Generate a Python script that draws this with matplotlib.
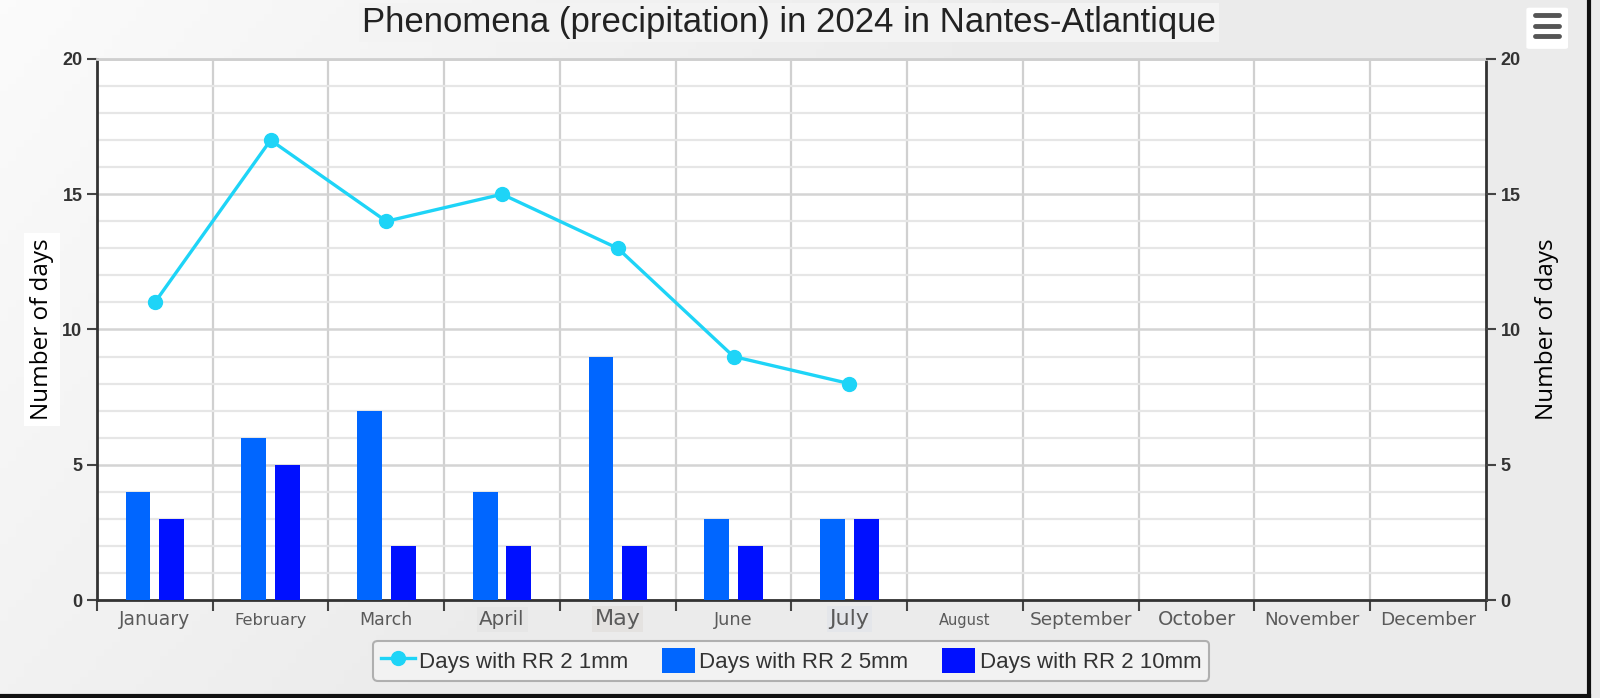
import numpy as np
import matplotlib
matplotlib.use("Agg")
import matplotlib.pyplot as plt
from matplotlib.lines import Line2D
from matplotlib.patches import Patch, FancyBboxPatch

# data
months = ["January", "February", "March", "April", "May", "June", "July",
          "August", "September", "October", "November", "December"]
rr_1mm = [11, 17, 14, 15, 13, 9, 8]
rr_5mm = [4, 6, 7, 4, 9, 3, 3]
rr_10mm = [3, 5, 2, 2, 2, 2, 3]

C_LINE = "#1ed4f7"
C_5 = "#0066ff"
C_10 = "#0010ff"

fig = plt.figure(figsize=(16, 6.98), dpi=100)
fig.patch.set_facecolor("#eeeeee")

# soft background gradient (whiter at the top left)
bg = fig.add_axes([0, 0, 1, 1], zorder=-10)
gx, gy = np.meshgrid(np.linspace(0, 1, 200), np.linspace(0, 1, 100))
shade = 0.985 - 0.06 * np.clip(gx * 1.6 + gy * 0.6, 0, 1)
bg.imshow(np.dstack([shade] * 3), aspect="auto", extent=[0, 1, 0, 1],
          origin="upper")
bg.axis("off")

ax = fig.add_axes([0.0606, 0.1404, 0.8681, 0.7751])
ax.set_facecolor("white")

x = np.arange(len(rr_1mm))
bw = 0.215
ax.bar(x - 0.145, rr_5mm, width=bw, color=C_5, zorder=3)
ax.bar(x + 0.145, rr_10mm, width=bw, color=C_10, zorder=3)
ax.plot(x, rr_1mm, color=C_LINE, lw=2.4, marker="o", ms=10, zorder=4)

ax.set_xlim(-0.5, len(months) - 0.5)
ax.set_ylim(0, 20)

# grids: minor every day, major every 5, vertical at month edges
ax.set_yticks(range(0, 21, 5))
ax.set_yticks(range(0, 21), minor=True)
ax.grid(axis="y", which="minor", color="#e6e6e6", lw=1.6, zorder=0)
ax.grid(axis="y", which="major", color="#d4d4d4", lw=1.8, zorder=0)
edges = np.arange(-0.5, len(months), 1.0)
for e in edges[1:-1]:
    ax.axvline(e, color="#d0d0d0", lw=1.6, zorder=0)

ax.set_xticks(edges)
ax.set_xticklabels([])
ax.tick_params(axis="x", which="major", direction="out", length=8, width=1.5,
               color="#444")
sizes = [13.5, 11.7, 12.5, 14.3, 16, 12.7, 16, 10.5, 13.3, 14, 13.2, 13.3]
boxed = {"April": "#e6e6e6", "May": "#e4e2e0", "July": "#e4e6ea"}
for i, (m, s) in enumerate(zip(months, sizes)):
    kw = {}
    if m in boxed:
        kw["bbox"] = dict(facecolor=boxed[m], edgecolor="none", pad=2)
    ax.text(i, -0.93, m, ha="center", va="baseline", fontsize=s, color="#5a5a5a",
            family="DejaVu Sans", clip_on=False, **kw)

ax.tick_params(axis="y", which="major", direction="out", length=7, width=1.5,
               color="#444", labelsize=13, labelcolor="#333")
ax.tick_params(axis="y", which="minor", length=0)
for lab in ax.get_yticklabels():
    lab.set_family("Liberation Sans")
    lab.set_weight("bold")

for side in ["left", "bottom", "right"]:
    ax.spines[side].set_color("#333")
    ax.spines[side].set_linewidth(2)
ax.spines["top"].set_color("#cfcfcf")
ax.spines["top"].set_linewidth(2)

ax2 = ax.twinx()
ax2.set_ylim(0, 20)
ax2.set_yticks(range(0, 21, 5))
ax2.tick_params(axis="y", direction="out", length=7, width=1.5, color="#444",
                labelsize=13, labelcolor="#333")
for lab in ax2.get_yticklabels():
    lab.set_family("Liberation Sans")
    lab.set_weight("bold")
for s in ax2.spines.values():
    s.set_visible(False)

ax.set_ylabel("Number of days", fontsize=17.5, family="Open Sans", labelpad=6,
              bbox=dict(facecolor="white", edgecolor="none", pad=4))
ax2.set_ylabel("Number of days", fontsize=17.5, family="Open Sans", labelpad=10)

fig.text(0.493, 0.968, "Phenomena (precipitation) in 2024 in Nantes-Atlantique",
         ha="center", va="center", fontsize=25, family="Liberation Sans",
         color="#222",
         bbox=dict(facecolor="#f3f3f3", edgecolor="none", pad=2))

handles = [
    Line2D([0], [0], color=C_LINE, lw=2.4, marker="o", ms=10),
    Patch(facecolor=C_5),
    Patch(facecolor=C_10),
]
labels = ["Days with RR 2 1mm", "Days with RR 2 5mm", "Days with RR 2 10mm"]
leg = fig.legend(handles, labels, loc="center", bbox_to_anchor=(0.4945, 0.0535),
                 ncol=3, frameon=True, fancybox=True,
                 prop={"family": "Liberation Sans", "size": 16},
                 handlelength=1.5, handleheight=1.3, handletextpad=0.2,
                 columnspacing=1.5, borderpad=0.35)
leg.get_frame().set_edgecolor("#a0a0a0")
leg.get_frame().set_linewidth(1.5)
leg.get_frame().set_facecolor("#f4f4f4")
for t in leg.get_texts():
    t.set_color("#333")

# menu icon
fig.patches.append(FancyBboxPatch((0.956, 0.932), 0.022, 0.055,
                                  boxstyle="round,pad=0.002", transform=fig.transFigure,
                                  facecolor="white", edgecolor="none"))
for yy in (0.948, 0.963, 0.978):
    fig.add_artist(Line2D([0.9595, 0.9745], [yy, yy], color="#555", lw=3.5,
                          solid_capstyle="round", transform=fig.transFigure))

# dark frame on right and bottom
fig.add_artist(Line2D([0.993, 0.993], [0.0, 1.0], color="#111", lw=3,
                      transform=fig.transFigure))
fig.add_artist(Line2D([0.0, 0.993], [0.003, 0.003], color="#111", lw=3,
                      transform=fig.transFigure))

fig.savefig("out.png", dpi=100, facecolor=fig.get_facecolor())
